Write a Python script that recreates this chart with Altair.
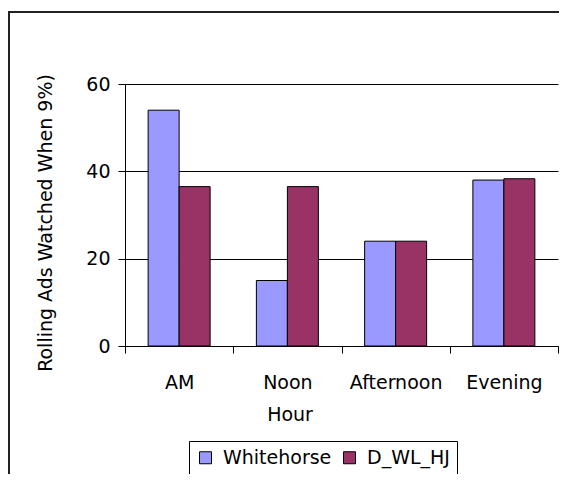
import altair as alt
import pandas as pd

hours = ["AM", "Noon", "Afternoon", "Evening"]
series = ["Whitehorse", "D_WL_HJ"]
whitehorse = [54, 15, 24, 38]
d_wl_hj = [36.5, 36.5, 24, 38.3]
colors = ["#9999FF", "#993366"]
y_ticks = [0, 20, 40, 60]

rows = []
for i, h in enumerate(hours):
    rows.append({"Hour": h, "Series": series[0], "Value": whitehorse[i]})
    rows.append({"Hour": h, "Series": series[1], "Value": d_wl_hj[i]})
df = pd.DataFrame(rows)

FONT = "DejaVu Sans"
FS = 19

bars = alt.Chart(df).mark_bar(stroke="black", strokeWidth=1, opacity=1).encode(
    x=alt.X(
        "Hour:N", sort=hours,
        scale=alt.Scale(paddingInner=0, paddingOuter=0),
        axis=alt.Axis(
            title="Hour", labelAngle=0, tickBand="extent", tickSize=7,
            tickColor="black", domainColor="black", labelPadding=20,
            titleX=164.5, titleY=74, titleBaseline="alphabetic", titleAlign="center",
            grid=False, labelFontSize=FS, titleFontSize=FS, labelFont=FONT,
            titleFont=FONT, titleFontWeight="normal", labelColor="black",
            titleColor="black",
        ),
    ),
    xOffset=alt.XOffset("Series:N", sort=series,
                        scale=alt.Scale(paddingOuter=0.746, paddingInner=0)),
    y=alt.Y(
        "Value:Q",
        scale=alt.Scale(domain=[0, 60], nice=False),
        axis=alt.Axis(
            values=y_ticks, title="Rolling Ads Watched When 9%)",
            tickSize=7, tickColor="black", domainColor="black",
            gridColor="black", gridOpacity=1, gridWidth=1, grid=True,
            labelPadding=8, labelFontSize=FS, labelFont=FONT, labelColor="black",
            titleFont=FONT, titleFontSize=FS, titleFontWeight="normal",
            titleColor="black", titleX=-80, titleY=138.5, titleAngle=270,
            titleBaseline="middle", titleAlign="center",
        ),
    ),
    color=alt.Color(
        "Series:N", sort=series,
        scale=alt.Scale(domain=series, range=colors),
        legend=alt.Legend(
            title=None, orient="none", legendX=64, legendY=357,
            direction="horizontal", symbolType="square", symbolSize=144,
            symbolStrokeColor="black", symbolStrokeWidth=1, symbolOpacity=1,
            labelFont=FONT, labelFontSize=FS, labelColor="black",
            strokeColor="black", fillColor="white", padding=7,
            columnPadding=8, labelOffset=8,
        ),
    ),
)

frame_df = pd.DataFrame({"f": [0]})
frame_top = alt.Chart(frame_df).mark_rect(fill="#222222", strokeWidth=0).encode(
    x=alt.value(-117), x2=alt.value(434), y=alt.value(-73), y2=alt.value(-71)
)
frame_left = alt.Chart(frame_df).mark_rect(fill="#222222", strokeWidth=0).encode(
    x=alt.value(-117), x2=alt.value(-115), y=alt.value(-73), y2=alt.value(390)
)

chart = alt.layer(frame_top, frame_left, bars).properties(
    width=433, height=262,
    autosize=alt.AutoSizeParams(type="none"),
    padding={"left": 117, "top": 76, "right": 1, "bottom": 128},
).configure_view(stroke=None)

chart.save("out.html", embed_options={"renderer": "svg", "actions": False})
